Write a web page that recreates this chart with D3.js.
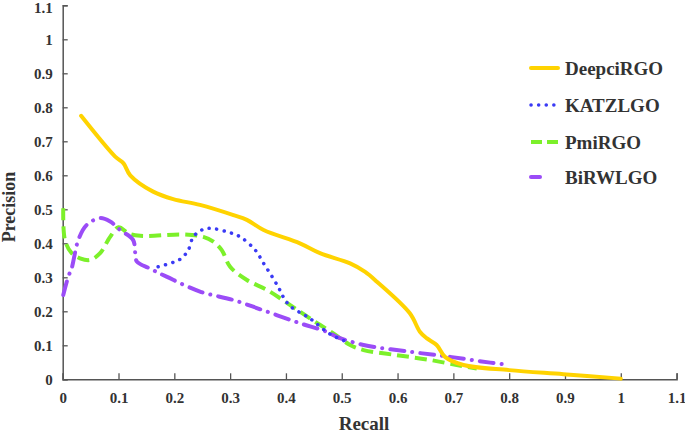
<!DOCTYPE html>
<html><head><meta charset="utf-8">
<script src="https://cdn.jsdelivr.net/npm/d3@7"></script>
<style>body{margin:0;background:#fff}svg{display:block}text{font-family:"Liberation Serif","Times New Roman",serif;font-weight:bold;fill:#333}</style>
</head><body><div id="c"></div>
<script>
const xTicks=[0,0.1,0.2,0.3,0.4,0.5,0.6,0.7,0.8,0.9,1,1.1];
const yTicks=[0,0.1,0.2,0.3,0.4,0.5,0.6,0.7,0.8,0.9,1,1.1];
const seriesNames=["DeepciRGO","KATZLGO","PmiRGO","BiRWLGO"];
const deepciRGO=[[0.033,0.775],[0.094,0.655],[0.109,0.635],[0.121,0.60],[0.162,0.552],[0.198,0.530],[0.246,0.513],[0.306,0.483],[0.330,0.469],[0.360,0.439],[0.425,0.40],[0.461,0.371],[0.515,0.341],[0.542,0.316],[0.563,0.287],[0.622,0.194],[0.640,0.14],[0.652,0.121],[0.670,0.101],[0.685,0.066],[0.718,0.042],[0.80,0.027],[0.897,0.015],[1.0,0.002]];
const katzLGO=[[0.171,0.331],[0.198,0.344],[0.213,0.356],[0.225,0.38],[0.234,0.419],[0.249,0.439],[0.264,0.444],[0.294,0.434],[0.318,0.419],[0.345,0.38],[0.36,0.341],[0.377,0.297],[0.389,0.263],[0.395,0.243],[0.407,0.216],[0.443,0.179],[0.479,0.133],[0.515,0.106]];
const pmiRGO=[[0.001,0.503],[0.004,0.41],[0.016,0.371],[0.031,0.356],[0.049,0.351],[0.067,0.371],[0.085,0.419],[0.1,0.447],[0.118,0.429],[0.139,0.422],[0.216,0.426],[0.252,0.419],[0.270,0.405],[0.285,0.38],[0.30,0.331],[0.33,0.292],[0.366,0.263],[0.407,0.219],[0.443,0.179],[0.485,0.135],[0.515,0.101],[0.539,0.086],[0.599,0.071],[0.658,0.057],[0.706,0.042],[0.742,0.032]];
const biRWLGO=[[0.001,0.248],[0.01,0.302],[0.016,0.326],[0.028,0.41],[0.043,0.454],[0.067,0.474],[0.085,0.464],[0.103,0.439],[0.126,0.41],[0.13,0.371],[0.133,0.346],[0.156,0.326],[0.186,0.302],[0.246,0.258],[0.306,0.233],[0.366,0.199],[0.425,0.165],[0.473,0.14],[0.491,0.125],[0.539,0.101],[0.622,0.081],[0.694,0.066],[0.766,0.049],[0.80,0.042]];

const W=685,H=434;
const svg=d3.select("#c").append("svg").attr("width",W).attr("height",H);
const x=d3.scaleLinear().domain([0,1.1]).range([62.7,676.6]);
const y=d3.scaleLinear().domain([0,1.1]).range([379.3,5.3]);
const axisColor="#555";

const gx=svg.append("g").attr("transform","translate(0,"+y(0)+")")
  .call(d3.axisBottom(x).tickValues(xTicks).tickSize(-6).tickPadding(13).tickFormat(d=>d3.format("")(+d.toFixed(1))));
const gy=svg.append("g").attr("transform","translate("+x(0)+",0)")
  .call(d3.axisLeft(y).tickValues(yTicks).tickSize(-5).tickPadding(10).tickFormat(d=>d3.format("")(+d.toFixed(1))));
[gx,gy].forEach(g=>{g.select(".domain").attr("stroke",axisColor).attr("stroke-width",1.5);
  g.selectAll(".tick line").attr("stroke",axisColor).attr("stroke-width",1.3);
  g.selectAll("text").attr("font-size",15).attr("font-family","Liberation Serif").attr("font-weight","bold").attr("fill","#333");});
// keep the top label inside the picture
gy.selectAll(".tick text").filter(d=>d===1.1).attr("dy","0.5em");

const styles=[
 {data:deepciRGO,color:"#FFD300",w:4,dash:null,cap:"round"},
 {data:katzLGO,color:"#3a3af5",w:3.5,dash:"0.1 7.5",cap:"round"},
 {data:pmiRGO,color:"#7cf02a",w:4,dash:"12 6",cap:"butt"},
 {data:biRWLGO,color:"#9b4cf7",w:4,dash:"14 8 0.1 8",cap:"round"}
];
const line=d3.line().x(d=>x(d[0])).y(d=>y(d[1])).curve(d3.curveCatmullRom.alpha(0.5));
[2,3,1,0].forEach(i=>{const s=styles[i];
  svg.append("path").attr("d",line(s.data)).attr("fill","none").attr("stroke",s.color)
   .attr("stroke-width",s.w).attr("stroke-linecap",s.cap).attr("stroke-linejoin","round")
   .attr("stroke-dasharray",s.dash);});

// legend
const ly=[68,105,142,177];
seriesNames.forEach((n,i)=>{const s=styles[i];
  svg.append("line").attr("x1",531).attr("x2",558).attr("y1",ly[i]).attr("y2",ly[i])
    .attr("stroke",s.color).attr("stroke-width",s.w).attr("stroke-linecap",s.cap)
    .attr("stroke-dasharray",i==3?"9 100":(i==2?"11 5":s.dash));
  svg.append("text").attr("x",565).attr("y",ly[i]).attr("dy","0.35em").attr("font-size",19).text(n);
});
svg.append("text").attr("x",364).attr("y",430).attr("text-anchor","middle").attr("font-size",19).text("Recall");
svg.append("text").attr("transform","translate(15,207) rotate(-90)").attr("text-anchor","middle").attr("font-size",18).text("Precision");
</script></body></html>
